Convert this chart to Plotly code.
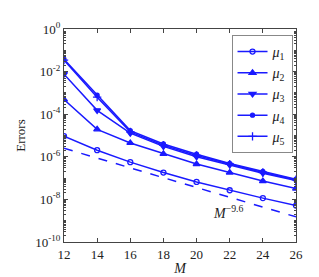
import plotly.graph_objects as go

M = [12, 14, 16, 18, 20, 22, 24, 26]
# log10 of errors
mu1 = [-5.03, -5.69, -6.25, -6.74, -7.18, -7.57, -7.94, -8.29]
mu2 = [-3.31, -4.71, -5.35, -5.86, -6.34, -6.74, -7.14, -7.49]
mu3 = [-2.12, -3.82, -4.89, -5.51, -6.00, -6.38, -6.77, -7.11]
mu4 = [-1.42, -3.11, -4.77, -5.40, -5.88, -6.31, -6.69, -7.05]
mu5 = [-1.46, -3.20, -4.83, -5.46, -5.94, -6.35, -6.74, -7.08]
ref_M = [12, 26]
ref_log = [-5.60, -8.82]

series = [
    ("<i>μ</i><sub>1</sub>", mu1, "circle-open", 5),
    ("<i>μ</i><sub>2</sub>", mu2, "triangle-up", 6),
    ("<i>μ</i><sub>3</sub>", mu3, "triangle-down", 6),
    ("<i>μ</i><sub>4</sub>", mu4, "circle", 4),
    ("<i>μ</i><sub>5</sub>", mu5, "cross-thin-open", 6),
]

blue = "#1a1aff"
fig = go.Figure()
for name, vals, sym, sz in series:
    fig.add_trace(go.Scatter(
        x=M, y=[10 ** v for v in vals], mode="lines+markers", name=name,
        line=dict(color=blue, width=1.5),
        marker=dict(symbol=sym, size=sz, color=blue, line=dict(color=blue, width=1.3)),
    ))
fig.add_trace(go.Scatter(
    x=ref_M, y=[10 ** v for v in ref_log], mode="lines", showlegend=False,
    line=dict(color=blue, width=1.5, dash="dash"),
))
fig.add_annotation(x=21.9, y=-8.6, xref="x", yref="y", text="<i>M</i><sup>−9.6</sup>",
                   showarrow=False, xanchor="center", yanchor="middle",
                   font=dict(family="Liberation Serif", size=14, color="#222"))

major = [10 ** e for e in range(0, -11, -2)]
major_text = ["10<sup>%s</sup>" % ("0" if e == 0 else "-%d" % -e) for e in range(0, -11, -2)]
minor_vals = []
for e in range(-10, 0):
    for k in range(1, 10):
        minor_vals.append(k * 10 ** e)

fig.update_layout(
    width=319, height=277,
    margin=dict(l=54, r=31, t=20, b=39),
    paper_bgcolor="white", plot_bgcolor="white",
    font=dict(family="Liberation Serif", size=13, color="#222"),
    showlegend=True,
    legend=dict(x=0.985, y=0.972, xanchor="right", yanchor="top",
                bgcolor="white", bordercolor="#888", borderwidth=1,
                font=dict(family="Liberation Serif", size=14),
                itemwidth=30, tracegroupgap=0),
    xaxis=dict(range=[12, 26], tickvals=M, ticks="inside", ticklen=4,
               showline=True, linecolor="#444", linewidth=1, mirror="ticks",
               showgrid=False, zeroline=False,
               title=dict(text="<i>M</i>", standoff=2, font=dict(size=14))),
    yaxis=dict(type="log", range=[-10, 0], tickvals=major, ticktext=major_text,
               ticks="inside", ticklen=4, showline=True, linecolor="#444",
               linewidth=1, mirror="ticks", showgrid=False, zeroline=False,
               minor=dict(tickvals=minor_vals, ticks="inside", ticklen=2, showgrid=False),
               title=dict(text="Errors", standoff=6, font=dict(size=13))),
)
fig.write_html("out.html")
